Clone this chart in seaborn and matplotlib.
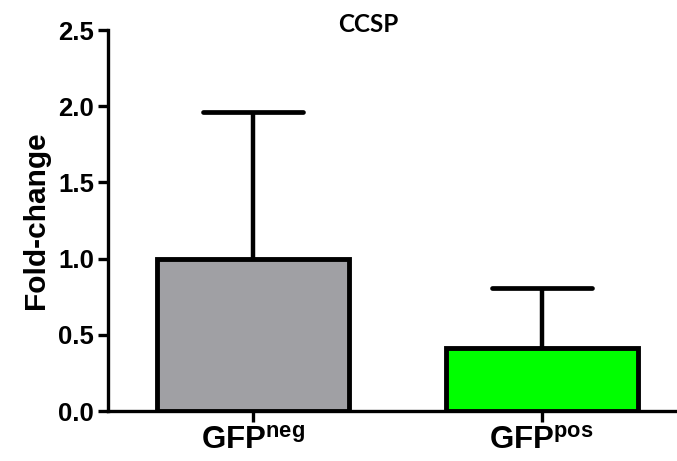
import matplotlib
matplotlib.use("Agg")
import matplotlib.pyplot as plt
import seaborn as sns
import pandas as pd

# Relative CCSP expression by sorted population (mean + SD)
groups = ["GFP$^{\\mathbf{neg}}$", "GFP$^{\\mathbf{pos}}$"]
fold_change = [1.00, 0.415]
sd = [0.96, 0.39]
bar_colors = ["#a0a0a4", "#00ff00"]
y_ticks = [0.0, 0.5, 1.0, 1.5, 2.0, 2.5]

sns.set_theme(style="ticks")
plt.rcParams["font.family"] = ["Liberation Sans", "DejaVu Sans"]
plt.rcParams["mathtext.fontset"] = "custom"
plt.rcParams["mathtext.rm"] = "Liberation Sans"
plt.rcParams["mathtext.bf"] = "Liberation Sans:bold"
plt.rcParams["text.color"] = "black"
plt.rcParams["axes.labelcolor"] = "black"
plt.rcParams["xtick.color"] = "black"
plt.rcParams["ytick.color"] = "black"

df = pd.DataFrame({"group": groups, "value": fold_change})

fig = plt.figure(figsize=(6.77, 4.61), dpi=100)
ax = fig.add_axes([108 / 677, 1 - 411 / 461, 1 - 108 / 677, (411 - 30) / 461])

sns.barplot(data=df, x="group", y="value", hue="group", palette=bar_colors,
            saturation=1, width=0.665, edgecolor="black", linewidth=3.5,
            legend=False, errorbar=None, ax=ax, zorder=3)
for p in ax.patches:
    p.set_joinstyle("miter")

# upper-only SD whiskers
xs = list(range(len(groups)))
tops = [m + s for m, s in zip(fold_change, sd)]
ax.vlines(xs, fold_change, tops, colors="black", linewidth=3.2, zorder=2)
ax.hlines(tops, [x - 0.173 for x in xs], [x + 0.173 for x in xs],
          colors="black", linewidth=3.4, zorder=2, capstyle="round")

ax.set_xlim(-0.502, 1.469)
ax.set_ylim(0, 2.5)
ax.set_yticks(y_ticks)
ax.set_yticklabels([f"{t:.1f}" for t in y_ticks])
ax.set_xlabel("")
ax.set_ylabel("Fold-change", fontsize=21.5, fontweight="bold", labelpad=6,
              color="black")

for side in ("top", "right"):
    ax.spines[side].set_visible(False)
for side in ("left", "bottom"):
    ax.spines[side].set_linewidth(2.4)
    ax.spines[side].set_color("black")

ax.tick_params(axis="y", length=7, width=2.4, pad=3, labelsize=18.5,
               colors="black", labelcolor="black")
ax.tick_params(axis="x", length=8, width=2.4, pad=3, labelsize=22.5,
               colors="black", labelcolor="black")
for lab in ax.get_yticklabels() + ax.get_xticklabels():
    lab.set_fontweight("bold")

fig.text(368 / 677, 1 - 25 / 461, "CCSP", ha="center", va="center",
         fontsize=17.5, fontweight="bold", color="black",
         family=["Lato", "DejaVu Sans"])

fig.savefig("out.png", dpi=100)
